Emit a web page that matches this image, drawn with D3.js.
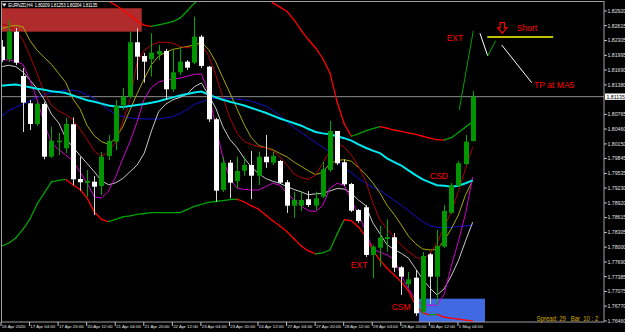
<!DOCTYPE html>
<html><head><meta charset="utf-8">
<script src="https://cdn.jsdelivr.net/npm/d3@7"></script>
<style>html,body{margin:0;padding:0;background:#000;overflow:hidden}svg{display:block}</style>
</head><body>
<svg id="c" width="625" height="332"></svg>
<script>
// ---------------- DATA ----------------
const symbol = "EURNZD,H4";
const lastOHLC = ["1.80209","1.81253","1.80204","1.81135"];
const bidPrice = 1.81135;

const openP  = [1.82177,1.81914,1.82489,1.81566,1.80997,1.80566,1.80983,1.79884,1.80184,1.80059,1.80560,1.79420,1.79336,1.79363,1.79274,1.79899,1.80197,1.80955,1.81135,1.82268,1.81983,1.81914,1.82018,1.82087,1.81289,1.81643,1.81864,1.81843,1.82385,1.81760,1.80664,1.79190,1.79759,1.79378,1.79593,1.79711,1.79488,1.79884,1.79759,1.79795,1.79351,1.78863,1.78863,1.78997,1.78863,1.79051,1.79607,1.80420,1.79768,1.79315,1.78774,1.78830,1.77836,1.77988,1.78169,1.78205,1.77579,1.77225,1.77363,1.76654,1.77850,1.77384,1.78009,1.78717,1.79280,1.79732,1.80209];
const highP  = [1.82316,1.82733,1.82566,1.81733,1.81066,1.81024,1.81024,1.80510,1.80378,1.80691,1.80705,1.79884,1.79607,1.79482,1.79982,1.80337,1.81066,1.81316,1.82489,1.82560,1.82045,1.82456,1.82212,1.82129,1.82108,1.82156,1.81900,1.82802,1.82421,1.81775,1.80691,1.79878,1.79816,1.79884,1.79884,1.80003,1.79989,1.80337,1.79989,1.79816,1.79399,1.79155,1.79170,1.79170,1.79155,1.79780,1.80628,1.80420,1.79830,1.79336,1.78794,1.78878,1.78044,1.78440,1.78580,1.78294,1.77607,1.77482,1.77523,1.77898,1.77877,1.78357,1.78878,1.79336,1.79795,1.80337,1.81253];
const lowP   = [1.81858,1.81858,1.81795,1.80399,1.80441,1.80524,1.79830,1.79857,1.79920,1.79961,1.79295,1.79176,1.79051,1.78669,1.79086,1.79816,1.80024,1.80858,1.81108,1.81483,1.81427,1.81552,1.81900,1.81066,1.81233,1.81587,1.81691,1.81816,1.81733,1.80608,1.78947,1.79149,1.79017,1.79226,1.79488,1.78997,1.79295,1.79649,1.79711,1.79315,1.78711,1.78607,1.78753,1.78836,1.78774,1.79024,1.79566,1.79711,1.79274,1.78732,1.78503,1.77794,1.77356,1.77592,1.77905,1.77482,1.77002,1.77148,1.76565,1.76585,1.76815,1.76794,1.77982,1.78690,1.79253,1.79711,1.80204];
const closeP = [1.81900,1.82489,1.81843,1.81010,1.80566,1.80983,1.79884,1.80218,1.80218,1.80566,1.79413,1.79351,1.79378,1.79259,1.79884,1.80212,1.80941,1.81135,1.82268,1.81968,1.81864,1.82052,1.82087,1.81289,1.81643,1.81864,1.81739,1.82385,1.81775,1.80664,1.79176,1.79759,1.79343,1.79586,1.79711,1.79488,1.79884,1.79768,1.79899,1.79343,1.78863,1.78982,1.78982,1.78878,1.79017,1.79622,1.80420,1.79747,1.79309,1.78759,1.78544,1.77836,1.78009,1.78196,1.78211,1.77571,1.77384,1.77329,1.76621,1.77815,1.77384,1.78023,1.78753,1.79288,1.79747,1.80197,1.81135];

const maCyan    = [1.8136,1.8138,1.8139,1.8136,1.8133,1.8130,1.8128,1.8125,1.8123,1.8121,1.8116,1.8111,1.8106,1.8103,1.8099,1.8095,1.8093,1.8092,1.8094,1.8096,1.8098,1.8101,1.8104,1.8108,1.8112,1.8116,1.8119,1.8122,1.8124,1.8118,1.8112,1.8107,1.8103,1.8099,1.8095,1.8090,1.8085,1.8080,1.8074,1.8068,1.8063,1.8058,1.8053,1.8046,1.8040,1.8037,1.8035,1.8031,1.8027,1.8022,1.8014,1.8007,1.8001,1.7996,1.7985,1.7977,1.7970,1.7960,1.7950,1.7941,1.7935,1.7929,1.7928,1.7926,1.7928,1.7933,1.7939];
const maBlue    = [1.8073,1.8084,1.8091,1.8098,1.8105,1.8112,1.8118,1.8122,1.8125,1.8127,1.8127,1.8124,1.8117,1.8110,1.8098,1.8086,1.8076,1.8072,1.8069,1.8068,1.8067,1.8067,1.8067,1.8069,1.8072,1.8078,1.8087,1.8097,1.8103,1.8108,1.8110,1.8110,1.8110,1.8108,1.8107,1.8104,1.8099,1.8094,1.8085,1.8073,1.8061,1.8049,1.8039,1.8028,1.8018,1.8008,1.7997,1.7981,1.7965,1.7955,1.7943,1.7933,1.7925,1.7919,1.7908,1.7897,1.7887,1.7876,1.7864,1.7853,1.7845,1.7841,1.7841,1.7841,1.7843,1.7844,1.7846];
const maOlive   = [1.8255,1.8260,1.8262,1.8259,1.8230,1.8210,1.8195,1.8181,1.8162,1.8143,1.8109,1.8088,1.8053,1.8032,1.8020,1.8014,1.8027,1.8051,1.8086,1.8120,1.8151,1.8180,1.8198,1.8206,1.8212,1.8215,1.8218,1.8221,1.8227,1.8212,1.8186,1.8153,1.8121,1.8088,1.8055,1.8028,1.8012,1.8007,1.8003,1.7995,1.7988,1.7977,1.7968,1.7959,1.7951,1.7956,1.7974,1.7981,1.7982,1.7979,1.7966,1.7952,1.7934,1.7913,1.7887,1.7868,1.7846,1.7823,1.7807,1.7796,1.7794,1.7795,1.7814,1.7838,1.7867,1.7909,1.7939];
const maDarkRed = [1.8265,1.8261,1.8250,1.8232,1.8198,1.8161,1.8121,1.8095,1.8084,1.8076,1.8065,1.8046,1.8024,1.8000,1.7989,1.7999,1.8019,1.8062,1.8107,1.8186,1.8210,1.8221,1.8227,1.8227,1.8225,1.8218,1.8215,1.8219,1.8223,1.8199,1.8160,1.8112,1.8069,1.8037,1.8020,1.8014,1.8009,1.8007,1.8001,1.7988,1.7970,1.7952,1.7945,1.7941,1.7950,1.7975,1.8001,1.8016,1.8009,1.7992,1.7968,1.7938,1.7893,1.7857,1.7838,1.7820,1.7804,1.7791,1.7780,1.7773,1.7786,1.7809,1.7840,1.7875,1.7916,1.7964,1.8008];
const maMagenta = [1.8190,1.8190,1.8187,1.8181,1.8148,1.8107,1.8057,1.8017,1.8003,1.7992,1.7979,1.7957,1.7933,1.7905,1.7902,1.7917,1.7947,1.7985,1.8020,1.8061,1.8109,1.8132,1.8144,1.8148,1.8150,1.8152,1.8156,1.8160,1.8161,1.8123,1.8052,1.7987,1.7942,1.7923,1.7920,1.7919,1.7919,1.7926,1.7933,1.7929,1.7912,1.7898,1.7885,1.7876,1.7874,1.7887,1.7923,1.7933,1.7929,1.7899,1.7867,1.7834,1.7796,1.7789,1.7784,1.7774,1.7741,1.7713,1.7691,1.7679,1.7679,1.7679,1.7702,1.7760,1.7812,1.7870,1.7946];
const maSilver  = [1.8176,1.8179,1.8176,1.8165,1.8148,1.8130,1.8107,1.8077,1.8059,1.8027,1.8008,1.7991,1.7974,1.7957,1.7938,1.7930,1.7934,1.7943,1.7957,1.7971,1.7996,1.8042,1.8082,1.8098,1.8107,1.8112,1.8119,1.8134,1.8142,1.8117,1.8090,1.8051,1.8024,1.8007,1.7985,1.7967,1.7953,1.7943,1.7937,1.7933,1.7926,1.7920,1.7915,1.7909,1.7911,1.7912,1.7917,1.7922,1.7921,1.7912,1.7898,1.7887,1.7851,1.7828,1.7805,1.7795,1.7787,1.7777,1.7755,1.7733,1.7715,1.7700,1.7713,1.7740,1.7772,1.7813,1.7852];
const bandUpper = [1.8409,1.8409,1.8407,1.8403,1.8394,1.8386,1.8378,1.8369,1.8361,1.8353,1.8344,1.8338,1.8332,1.8325,1.8319,1.8313,1.8304,1.8294,1.8283,1.8271,1.8262,1.8260,1.8263,1.8266,1.8270,1.8277,1.8292,1.8308,1.8321,1.8336,1.8353,1.8365,1.8373,1.8378,1.8378,1.8373,1.8361,1.8328,1.8309,1.8300,1.8291,1.8273,1.8251,1.8232,1.8215,1.8193,1.8163,1.8103,1.8057,1.8031,1.8036,1.8042,1.8047,1.8051,1.8048,1.8044,1.8041,1.8038,1.8035,1.8031,1.8027,1.8024,1.8023,1.8028,1.8039,1.8050,1.8061];
const bandLower = [1.7802,1.7808,1.7819,1.7837,1.7859,1.7890,1.7913,1.7936,1.7939,1.7941,1.7930,1.7920,1.7902,1.7873,1.7858,1.7853,1.7858,1.7863,1.7865,1.7868,1.7870,1.7872,1.7872,1.7872,1.7872,1.7872,1.7878,1.7885,1.7889,1.7893,1.7895,1.7897,1.7899,1.7900,1.7894,1.7886,1.7879,1.7867,1.7855,1.7844,1.7832,1.7817,1.7802,1.7792,1.7786,1.7788,1.7794,1.7827,1.7857,1.7855,1.7842,1.7823,1.7794,1.7773,1.7756,1.7742,1.7727,1.7709,1.7679,1.7663,1.7659,1.7660,1.7654,1.7652,1.7650,1.7648,1.7646];

const timeLabels = ["16 Apr 2020","17 Apr 04:00","17 Apr 20:00","20 Apr 12:00","21 Apr 04:00","21 Apr 20:00","22 Apr 12:00","23 Apr 04:00","23 Apr 20:00","24 Apr 12:00","27 Apr 04:00","27 Apr 20:00","28 Apr 12:00","29 Apr 04:00","29 Apr 20:00","30 Apr 12:00","1 May 04:00"];
const timeLabelBars = [0,4,8,12,16,20,24,28,32,36,40,44,48,52,56,60,64];
const priceTicks = ["1.82920","1.82615","1.82305","1.81995","1.81690","1.81380","1.80765","1.80460","1.80150","1.79845","1.79535","1.79230","1.78920","1.78615","1.78305","1.78000","1.77690","1.77385","1.77075","1.76770","1.76460"];

const noteText  = ["EXT","Short","TP at MA5","CSD","EXT","CSM"];
const noteBar   = [62.35,72.16,74.58,60.01,48.91,54.65];
const notePrice = [1.82296,1.82510,1.81310,1.79413,1.77571,1.76690];

const trendBar0   = [64.12,67.02,68.10,70.06,68.04];
const trendPrice0 = [1.80858,1.82456,1.81983,1.82212,1.82379];
const trendBar1   = [66.08,68.10,69.22,74.26,77.28];
const trendPrice1 = [1.82510,1.81983,1.82302,1.81427,1.82379];

const arrowBar = 70.14, arrowTop = 1.82677, arrowBottom = 1.82456;
const zoneBar0  = [0.03,58.47];
const zoneBar1  = [19.64,67.72];
const zoneHigh  = [1.82977,1.76925];
const zoneLow   = [1.82489,1.76400];
const spreadText = "Spread: 29   Bar  10 : 2";

// ---------------- CHART ----------------
const svg = d3.select("#c");
const L = 1.5, R = 604, T = 1.5, B = 322;
const x = d3.scaleLinear().domain([0, 66]).range([1.5, 472.7]);
const y = d3.scaleLinear().domain([1.76460, 1.82920]).range([321, 11]);
const font = "'Liberation Sans', Arial, sans-serif";

svg.append("rect").attr("width",625).attr("height",332).attr("fill","#000");
svg.append("defs").append("clipPath").attr("id","clip")
  .append("rect").attr("x",L).attr("y",T).attr("width",R-L).attr("height",B-T);
const g = svg.append("g").attr("clip-path","url(#clip)");

// zones (background objects)
const zoneColors = ["#b02c2c","#4169e1"];
zoneBar0.forEach((b,i)=>{
  g.append("rect").attr("x",x(b)).attr("y",y(zoneHigh[i]))
   .attr("width",x(zoneBar1[i])-x(b)).attr("height",y(zoneLow[i])-y(zoneHigh[i]))
   .attr("fill",zoneColors[i]);
});

// bid line
g.append("line").attr("x1",L).attr("x2",R).attr("y1",y(bidPrice)).attr("y2",y(bidPrice))
  .attr("stroke","#8c8c8c").attr("stroke-width",1);

// indicator lines
const line = d3.line().x((d,i)=>x(i)).y(d=>y(d)).curve(d3.curveLinear);
const lineDefs = [
  [maBlue,"#1010c8",1],
  [maOlive,"#a8a800",1],
  [maDarkRed,"#b00000",1],
  [maSilver,"#c8c8c8",1],
  [maMagenta,"#d000d0",1],
  [maCyan,"#00e8f0",2]
];
lineDefs.forEach(([arr,col,w])=>{
  g.append("path").attr("d",line(arr)).attr("fill","none").attr("stroke",col).attr("stroke-width",w);
});
// two-colour bands
[bandUpper,bandLower].forEach(arr=>{
  for(let i=1;i<arr.length;i++){
    g.append("line").attr("x1",x(i-1)).attr("y1",y(arr[i-1])).attr("x2",x(i)).attr("y2",y(arr[i]))
     .attr("stroke", arr[i] >= arr[i-1] ? "#00a000" : "#ff0000").attr("stroke-width",1.3)
     .attr("stroke-linecap","round");
  }
});

// candles
const bull = "#009600", bear = "#ffffff";
openP.forEach((o,i)=>{
  const c = closeP[i], up = c >= o, col = up ? bull : bear;
  const cx = Math.round(x(i)) + 0.5;
  g.append("line").attr("x1",cx).attr("x2",cx).attr("y1",y(highP[i])).attr("y2",y(lowP[i]))
   .attr("stroke", up ? "#00a800" : "#d8d8d8").attr("stroke-width",1);
  const yt = y(Math.max(o,c)), yb = y(Math.min(o,c));
  g.append("rect").attr("x",cx-2.5).attr("y",yt).attr("width",5).attr("height",Math.max(1.2,yb-yt))
   .attr("fill",col);
});

// trend lines / drawn objects
const trendCols = ["#00a000","#ffffff","#00a000","#ffffff","#ffff00"];
const trendW = [1,1,1,1,1.6];
trendBar0.forEach((b,i)=>{
  g.append("line").attr("x1",x(b)).attr("y1",y(trendPrice0[i])).attr("x2",x(trendBar1[i])).attr("y2",y(trendPrice1[i]))
   .attr("stroke",trendCols[i]).attr("stroke-width",trendW[i]);
});
// arrow
{
  const cx = x(arrowBar), t = y(arrowTop), b = y(arrowBottom), m = t + (b-t)*0.5;
  g.append("path").attr("d",`M${cx-2.2},${t}H${cx+2.2}V${m}H${cx+4.5}L${cx},${b}L${cx-4.5},${m}H${cx-2.2}Z`)
   .attr("fill","none").attr("stroke","#ff0000").attr("stroke-width",1.2);
}
// notes
noteText.forEach((t,i)=>{
  g.append("text").attr("x",x(noteBar[i])).attr("y",y(notePrice[i])).text(t)
   .attr("fill","#ff0000").attr("font-family",font).attr("font-size",8.6);
});

// frame
svg.append("rect").attr("x",L).attr("y",T).attr("width",R-L).attr("height",B-T)
  .attr("fill","none").attr("stroke","#a0a0a0").attr("stroke-width",1);

// price axis
priceTicks.forEach(s=>{
  const yy = y(+s);
  svg.append("line").attr("x1",R).attr("x2",R+3).attr("y1",yy).attr("y2",yy).attr("stroke","#c0c0c0");
  svg.append("text").attr("x",R+3.5).attr("y",yy+1.9).text(s).attr("fill","#e0e0e0")
    .attr("font-family",font).attr("font-size",5.2);
});
// current price label
{
  const yy = y(bidPrice);
  svg.append("rect").attr("x",R+1).attr("y",yy-3.2).attr("width",20).attr("height",6.4).attr("fill","#ffffff");
  svg.append("text").attr("x",R+2.5).attr("y",yy+1.9).text(bidPrice.toFixed(5)).attr("fill","#000")
    .attr("font-family",font).attr("font-size",5.2);
}
// time axis
timeLabels.forEach((s,i)=>{
  const xx = x(timeLabelBars[i]);
  svg.append("line").attr("x1",xx-0.5).attr("x2",xx-0.5).attr("y1",B).attr("y2",B+4).attr("stroke","#c0c0c0");
  svg.append("text").attr("x",xx+0.3).attr("y",B+6.2).text(s).attr("fill","#e0e0e0")
    .attr("font-family",font).attr("font-size",4.4);
});

// header
svg.append("path").attr("d","M2,3.5H6.5L4.25,6.5Z").attr("fill","#ffffff");
svg.append("text").attr("x",8.3).attr("y",7)
  .text(symbol + "  " + lastOHLC.join(" ")).attr("fill","#ffffff")
  .attr("font-family",font).attr("font-size",4.6).attr("textLength",89).attr("lengthAdjust","spacing")
  .attr("xml:space","preserve");
// spread info
svg.append("text").attr("x",536.7).attr("y",321).text(spreadText).attr("fill","#d8ac00")
  .attr("font-family",font).attr("font-size",6.8).attr("textLength",61.5).attr("lengthAdjust","spacingAndGlyphs")
  .attr("xml:space","preserve");
</script>
</body></html>
